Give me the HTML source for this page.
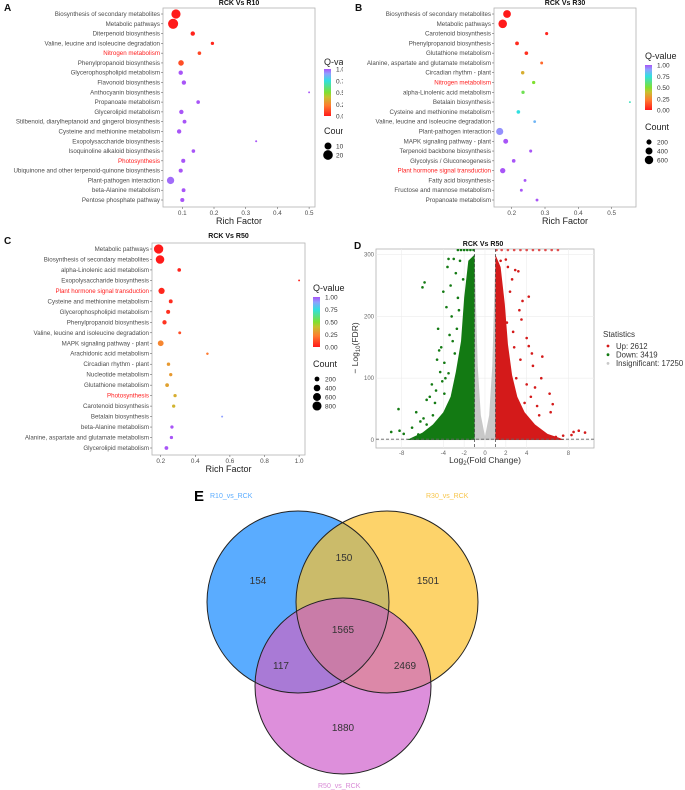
<!DOCTYPE html>
<html><head><meta charset="utf-8">
<style>
html,body{margin:0;padding:0;background:#fff;}
svg{display:block;font-family:"Liberation Sans",sans-serif;}
</style></head>
<body>
<svg id="fig" width="685" height="790" viewBox="0 0 685 790" xmlns="http://www.w3.org/2000/svg">
<defs>
<linearGradient id="qgrad" x1="0" y1="1" x2="0" y2="0">
<stop offset="0" stop-color="#ff1a1a"/><stop offset="0.22" stop-color="#ff7a30"/>
<stop offset="0.4" stop-color="#c8c030"/><stop offset="0.5" stop-color="#7fe030"/>
<stop offset="0.75" stop-color="#30e0e0"/><stop offset="0.9" stop-color="#8fa0ff"/>
<stop offset="1" stop-color="#a855f7"/></linearGradient>
<clipPath id="cBlue"><circle cx="298" cy="602" r="91"/></clipPath>
<clipPath id="cYel"><circle cx="387" cy="602" r="91"/></clipPath>
<clipPath id="dClip"><rect x="376" y="249" width="218" height="199"/></clipPath>
</defs>
<g id="root"></g>
</svg>
<script>
// ---------- Panel A data ----------
const aLabels=["Biosynthesis of secondary metabolites","Metabolic pathways","Diterpenoid biosynthesis","Valine, leucine and isoleucine degradation","Nitrogen metabolism","Phenylpropanoid biosynthesis","Glycerophospholipid metabolism","Flavonoid biosynthesis","Anthocyanin biosynthesis","Propanoate metabolism","Glycerolipid metabolism","Stilbenoid, diarylheptanoid and gingerol biosynthesis","Cysteine and methionine metabolism","Exopolysaccharide biosynthesis","Isoquinoline alkaloid biosynthesis","Photosynthesis","Ubiquinone and other terpenoid-quinone biosynthesis","Plant-pathogen interaction","beta-Alanine metabolism","Pentose phosphate pathway"];
const aRich=[0.08,0.071,0.133,0.195,0.154,0.096,0.095,0.105,0.5,0.15,0.097,0.107,0.09,0.333,0.135,0.103,0.095,0.063,0.104,0.1];
const aQ=[0,0,0.02,0.03,0.1,0.12,1,1,1,1,1,1,1,1,1,1,1,0.97,1,1];
const aCount=[180,220,35,18,22,60,35,35,4,22,35,26,35,5,22,30,30,110,26,30];
const aHi=[4,15];
const aTicks=[0.1,0.2,0.3,0.4,0.5];
// ---------- Panel B data ----------
const bLabels=["Biosynthesis of secondary metabolites","Metabolic pathways","Carotenoid biosynthesis","Phenylpropanoid biosynthesis","Glutathione metabolism","Alanine, aspartate and glutamate metabolism","Circadian rhythm - plant","Nitrogen metabolism","alpha-Linolenic acid metabolism","Betalain biosynthesis","Cysteine and methionine metabolism","Valine, leucine and isoleucine degradation","Plant-pathogen interaction","MAPK signaling pathway - plant","Terpenoid backbone biosynthesis","Glycolysis / Gluconeogenesis","Plant hormone signal transduction","Fatty acid biosynthesis","Fructose and mannose metabolism","Propanoate metabolism"];
const bRich=[0.186,0.173,0.305,0.216,0.244,0.29,0.233,0.266,0.234,0.555,0.22,0.269,0.164,0.182,0.257,0.206,0.173,0.24,0.229,0.276];
const bQ=[0,0,0.02,0.04,0.05,0.18,0.35,0.5,0.55,0.7,0.75,0.85,0.92,1,1,1,1,1,1,1];
const bCount=[500,620,60,100,90,50,80,70,70,15,90,45,420,180,60,90,220,50,50,50];
const bHi=[7,16];
const bTicks=[0.2,0.3,0.4,0.5];
const bLegendCounts=[200,400,600];
// ---------- Panel C data ----------
const cLabels=["Metabolic pathways","Biosynthesis of secondary metabolites","alpha-Linolenic acid metabolism","Exopolysaccharide biosynthesis","Plant hormone signal transduction","Cysteine and methionine metabolism","Glycerophospholipid metabolism","Phenylpropanoid biosynthesis","Valine, leucine and isoleucine degradation","MAPK signaling pathway - plant","Arachidonic acid metabolism","Circadian rhythm - plant","Nucleotide metabolism","Glutathione metabolism","Photosynthesis","Carotenoid biosynthesis","Betalain biosynthesis","beta-Alanine metabolism","Alanine, aspartate and glutamate metabolism","Glycerolipid metabolism"];
const cRich=[0.188,0.196,0.307,1.0,0.205,0.258,0.243,0.222,0.31,0.2,0.47,0.245,0.258,0.237,0.283,0.275,0.555,0.265,0.262,0.233];
const cQ=[0,0,0.02,0.02,0.03,0.04,0.05,0.06,0.12,0.25,0.22,0.3,0.3,0.32,0.35,0.37,0.9,1,1,1];
const cCount=[850,700,100,20,350,120,130,150,60,300,40,90,80,110,80,80,20,80,80,110];
const cHi=[4,14];
const cTicks=[0.2,0.4,0.6,0.8,1.0];
const cLegendCounts=[200,400,600,800];
// ---------- Panel D data (log2FC, -log10 FDR) ----------
const dDownEnvelopeFC=[-1,-1,-1.6,-2,-2.3,-2.8,-3.3,-4,-5,-6,-7,-7.5];
const dDownEnvelopeY=[0,300,290,230,160,110,70,45,25,12,4,0];
const dUpEnvelopeFC=[1,1,1.5,1.9,2.2,2.6,3.1,3.8,4.8,6,7.2,7.6];
const dUpEnvelopeY=[0,300,280,220,155,105,70,45,25,10,3,0];
const dNsEnvelopeFC=[-1,-1,-0.7,-0.4,0,0.4,0.7,1,1];
const dNsEnvelopeY=[0,300,120,40,6,40,120,300,0];
const dDownFC=[-8.3,-9,-8.2,-7.8,-6.4,-5.8,-6,-4.5,-4.2,-4.4,-4.6,-3.9,-3.5,-5.1,-5.3,-5.6,-4.8,-6.6,-4.1,-3.6,-3.5,-3,-2.8,-3.3,-3.7,-3.2,-2.6,-4,-3.4,-3.9,-5,-5.6,-6.2,-7,-4.3,-2.9,-2.4,-2.1,-1.9,-2.7,-3.1,-2.5,-3.8,-4.7,-5.9];
const dDownY=[50,13,15,10,9,255,247,180,150,145,130,125,108,90,70,65,60,45,95,280,293,293,270,250,215,200,230,240,170,75,40,25,30,20,110,140,290,260,200,180,160,210,100,80,35];
const dUpFC=[1.5,2,2.2,2.9,3.2,4.2,3.6,3.5,4,4.2,5.5,4.6,5.4,4,3.3,2.8,3,4.8,6.2,6.5,6.3,5,7.5,8.5,9,9.6,8.3,6.8,5.9,2.6,4.5,3.8,1.3,1.8,2.4,2.1,3.4,2.7,4.4,5.2];
const dUpY=[290,292,280,275,273,232,225,195,165,152,135,120,100,90,210,150,100,85,75,58,45,55,7,13,15,12,8,5,5,260,140,60,250,210,240,190,130,175,70,40];
const dCapDownFC=[-2.6,-2.3,-2,-1.7,-1.4,-1.1];
const dCapUpFC=[1.1,1.6,2.2,2.8,3.4,4,4.6,5.2,5.8,6.4,7];
const dCounts=["Up: 2612","Down: 3419","Insignificant: 17250"];
const dXTicks=[-8,-4,-2,0,2,4,8];
const dYTicks=[0,100,200,300];
// ---------- Panel E data ----------
const eRegionLabels=["154","150","1501","1565","117","2469","1880"];
const eSetNames=["R10_vs_RCK","R30_vs_RCK","R50_vs_RCK"];

const NS="http://www.w3.org/2000/svg";
const root=document.getElementById('root');
function el(tag,attrs,parent,text){const e=document.createElementNS(NS,tag);for(const k in attrs)e.setAttribute(k,attrs[k]);if(text!==undefined)e.textContent=text;(parent||root).appendChild(e);return e;}
function hex(c){return [parseInt(c.slice(1,3),16),parseInt(c.slice(3,5),16),parseInt(c.slice(5,7),16)];}
const qStops=[[0,"#ff1a1a"],[0.22,"#ff7a30"],[0.4,"#c8c030"],[0.5,"#7fe030"],[0.75,"#30e0e0"],[0.9,"#8fa0ff"],[1,"#a855f7"]];
function qColor(q){for(let i=1;i<qStops.length;i++){if(q<=qStops[i][0]){const a=qStops[i-1],b=qStops[i];const t=(q-a[0])/(b[0]-a[0]);const ca=hex(a[1]),cb=hex(b[1]);return "rgb("+ca.map((v,j)=>Math.round(v+(cb[j]-v)*t)).join(",")+")";}}return qStops[qStops.length-1][1];}

function dotPlot(p){
  const g=el('g',{});
  
  
  const fr=el('rect',{x:p.x0,y:p.y0,width:p.x1-p.x0,height:p.y1-p.y0,fill:'#fff',stroke:'#b3b3b3','stroke-width':0.8},g);
  
  
  const sx=v=>p.px0+(v-p.v0)*p.k;
  const n=p.labels.length;
  const sy=i=>p.rowTop+i*(p.rowBot-p.rowTop)/(n-1);
  for(let i=0;i<n;i++){
    const y=sy(i);
    const t=el('text',{x:p.x0-3,y:y+2,'font-size':6.2,'text-anchor':'end',fill:p.hi.includes(i)?'#ff2020':'#4d4d4d'},g,p.labels[i]);
    
    
    el('line',{x1:p.x0-2,x2:p.x0,y1:y,y2:y,stroke:'#4d4d4d','stroke-width':0.5},g);
    const c=el('circle',{cx:sx(p.rich[i]),cy:y,r:p.rf(p.count[i]),fill:qColor(p.q[i])},g);
    
    
  }
  for(const t of p.ticks){
    el('line',{x1:sx(t),x2:sx(t),y1:p.y1,y2:p.y1+2,stroke:'#4d4d4d','stroke-width':0.5},g);
    const tl=el('text',{x:sx(t),y:p.y1+8,'font-size':6.3,'text-anchor':'middle',fill:'#4d4d4d'},g,t.toFixed(1));
    
    
  }
  const xt=el('text',{x:(p.x0+p.x1)/2,y:p.y1+17,'font-size':9,'text-anchor':'middle',fill:'#222'},g,'Rich Factor');
  
  
  const tt=el('text',{x:(p.x0+p.x1)/2,y:p.titleY,'font-size':7,'font-weight':'bold','text-anchor':'middle',fill:'#111'},g,p.title);
  
  
  const pl=el('text',{x:p.letterX,y:p.letterY,'font-size':10,'font-weight':'bold',fill:'#111'},g,p.letter);
  
  
  const L=p.leg;
  const lt=el('text',{x:L.x,y:L.y,'font-size':9,fill:'#222'},g,'Q-value');
  
  
  const cb=el('rect',{x:L.x,y:L.barY,width:7,height:L.barH,fill:'url(#qgrad)'},g);
  
  
  ["1.00","0.75","0.50","0.25","0.00"].forEach((s,i)=>{el('text',{x:L.x+12,y:L.barY+i*L.barH/4+2.5,'font-size':6.5,fill:'#333'},g,s);});
  el('text',{x:L.x,y:L.countY,'font-size':9,fill:'#222'},g,'Count');
  L.counts.forEach((c,i)=>{
    const yy=L.countY+12+i*9;
    const d=el('circle',{cx:L.x+4,cy:yy,r:p.rf(c),fill:'#000'},g);
    
    
    el('text',{x:L.x+12,y:yy+2.5,'font-size':6.5,fill:'#333'},g,String(c));
  });
}

const clipA=el('clipPath',{id:'clipA'});el('rect',{x:0,y:0,width:343,height:240},clipA);
dotPlot({name:'panel-a-dotplot',labels:aLabels,rich:aRich,q:aQ,count:aCount,hi:aHi,ticks:aTicks,
  x0:163,x1:315,y0:8,y1:207,rowTop:14,rowBot:200,px0:182.3,v0:0.1,k:317,rf:c=>0.32*Math.sqrt(c)+0.3,
  title:'RCK Vs R10',titleY:5,letter:'A',letterX:4,letterY:11,
  leg:{x:324,y:65,barY:69,barH:47,countY:134,counts:[100,200]}});
root.lastChild.setAttribute('clip-path','url(#clipA)');
dotPlot({name:'panel-b-dotplot',labels:bLabels,rich:bRich,q:bQ,count:bCount,hi:bHi,ticks:bTicks,
  x0:494,x1:636,y0:8,y1:207,rowTop:14,rowBot:200,px0:511.7,v0:0.2,k:333,rf:c=>0.16*Math.sqrt(c)+0.3,
  title:'RCK Vs R30',titleY:5,letter:'B',letterX:355,letterY:11,
  leg:{x:645,y:59,barY:65,barH:45,countY:130,counts:bLegendCounts}});
dotPlot({name:'panel-c-dotplot',labels:cLabels,rich:cRich,q:cQ,count:cCount,hi:cHi,ticks:cTicks,
  x0:152,x1:305,y0:243,y1:455,rowTop:249,rowBot:448,px0:160.7,v0:0.2,k:173,rf:c=>0.15*Math.sqrt(c)+0.3,
  title:'RCK Vs R50',titleY:238,letter:'C',letterX:4,letterY:244,
  leg:{x:313,y:291,barY:297,barH:50,countY:367,counts:cLegendCounts}});

(function(){
  const g=el('g',{});
  
  
  const X0=376,X1=594,Y0=249,Y1=448;
  const sx=v=>485+v*10.42, sy=v=>440-v*0.618;
  el('rect',{x:X0,y:Y0,width:X1-X0,height:Y1-Y0,fill:'#fff',stroke:'#b3b3b3','stroke-width':0.8},g);
  dXTicks.forEach(t=>el('line',{x1:sx(t),x2:sx(t),y1:Y0,y2:Y1,stroke:'#ececec','stroke-width':0.6},g));
  dYTicks.forEach(t=>el('line',{x1:X0,x2:X1,y1:sy(t),y2:sy(t),stroke:'#ececec','stroke-width':0.6},g));
  const pg=el('g',{'clip-path':'url(#dClip)'},g);
  function env(fc,y,col,name){const pts=fc.map((v,i)=>sx(v)+","+sy(y[i])).join(" ");const p=el('polygon',{points:pts,fill:col},pg);}
  env(dNsEnvelopeFC,dNsEnvelopeY,'#c8c8c8','insignificant-density');
  env(dDownEnvelopeFC,dDownEnvelopeY,'#137a13','down-density');
  env(dUpEnvelopeFC,dUpEnvelopeY,'#d41a1a','up-density');
  dDownFC.forEach((v,i)=>{const c=el('circle',{cx:sx(v),cy:sy(dDownY[i]),r:1.3,fill:'#137a13'},pg);});
  dUpFC.forEach((v,i)=>{const c=el('circle',{cx:sx(v),cy:sy(dUpY[i]),r:1.3,fill:'#d41a1a'},pg);});
  dCapDownFC.forEach(v=>{const c=el('circle',{cx:sx(v),cy:Y0+1,r:1.3,fill:'#137a13'},pg);});
  dCapUpFC.forEach(v=>{const c=el('circle',{cx:sx(v),cy:Y0+1,r:1.3,fill:'#e05050'},pg);});
  [-1,1].forEach(v=>el('line',{x1:sx(v),x2:sx(v),y1:Y0,y2:Y1,stroke:'#555','stroke-width':0.8,'stroke-dasharray':'3,2'},g));
  el('line',{x1:X0,x2:X1,y1:sy(1.3),y2:sy(1.3),stroke:'#666','stroke-width':0.8,'stroke-dasharray':'3,2'},g);
  dXTicks.forEach(t=>{const tl=el('text',{x:sx(t),y:Y1+7,'font-size':6,'text-anchor':'middle',fill:'#666'},g,String(t));});
  dYTicks.forEach(t=>{const tl=el('text',{x:X0-2,y:sy(t)+2,'font-size':6,'text-anchor':'end',fill:'#666'},g,String(t));});
  const xt=el('text',{x:485,y:463,'font-size':8.5,'text-anchor':'middle',fill:'#333'},g);
  
  xt.innerHTML='Log<tspan font-size="6" dy="2">2</tspan><tspan dy="-2">(Fold Change)</tspan>';
  const yt=el('text',{x:0,y:0,'font-size':8.5,'text-anchor':'middle',fill:'#333',transform:'translate(358,348) rotate(-90)'},g);
  
  yt.innerHTML='− Log<tspan font-size="6" dy="2">10</tspan><tspan dy="-2">(FDR)</tspan>';
  const tt=el('text',{x:483,y:246,'font-size':7,'font-weight':'bold','text-anchor':'middle',fill:'#111'},g,'RCK Vs R50');
  
  const pl=el('text',{x:354,y:249,'font-size':10,'font-weight':'bold',fill:'#111'},g,'D');
  
  el('text',{x:603,y:337,'font-size':8,fill:'#333'},g,'Statistics');
  const cols=['#d41a1a','#137a13','#c8c8c8'];
  dCounts.forEach((s,i)=>{const y=346+i*8.7;
    const d=el('circle',{cx:608,cy:y,r:1.4,fill:cols[i]},g);
    const t=el('text',{x:616,y:y+2.8,'font-size':7.8,fill:'#333'},g,s);});
})();

(function(){
  const g=el('g',{});
  
  
  const B={cx:298,cy:602,r:91},Y={cx:387,cy:602,r:91},P={cx:343,cy:686,r:88};
  const cb=el('circle',{cx:B.cx,cy:B.cy,r:B.r,fill:'#5aacff'},g);
  const cy=el('circle',{cx:Y.cx,cy:Y.cy,r:Y.r,fill:'#fdd36a'},g);
  const cp=el('circle',{cx:P.cx,cy:P.cy,r:P.r,fill:'#dd8fdb'},g);
  el('circle',{cx:Y.cx,cy:Y.cy,r:Y.r,fill:'#cbbb6a','clip-path':'url(#cBlue)'},g);
  el('circle',{cx:P.cx,cy:P.cy,r:P.r,fill:'#a97ad6','clip-path':'url(#cBlue)'},g);
  el('circle',{cx:P.cx,cy:P.cy,r:P.r,fill:'#dc88a8','clip-path':'url(#cYel)'},g);
  const gg=el('g',{'clip-path':'url(#cYel)'},g);
  el('circle',{cx:P.cx,cy:P.cy,r:P.r,fill:'#c97ca8','clip-path':'url(#cBlue)'},gg);
  [B,Y,P].forEach(c=>el('circle',{cx:c.cx,cy:c.cy,r:c.r,fill:'none',stroke:'#222','stroke-width':1},g));
  const pos=[[258,584],[344,561],[428,584],[343,633],[281,669],[405,669],[343,731]];
  eRegionLabels.forEach((s,i)=>{const t=el('text',{x:pos[i][0],y:pos[i][1],'font-size':10,'text-anchor':'middle',fill:'#333'},g,s);});
  const l=el('text',{x:194,y:501,'font-size':15,'font-weight':'bold',fill:'#000'},g,'E');
  const n1=el('text',{x:210,y:498,'font-size':7,fill:'#5aacff'},g,eSetNames[0]);
  const n2=el('text',{x:426,y:498,'font-size':7,fill:'#f7c54a'},g,eSetNames[1]);
  const n3=el('text',{x:318,y:788,'font-size':7,fill:'#d88ad6'},g,eSetNames[2]);
})();
</script>
</body></html>
